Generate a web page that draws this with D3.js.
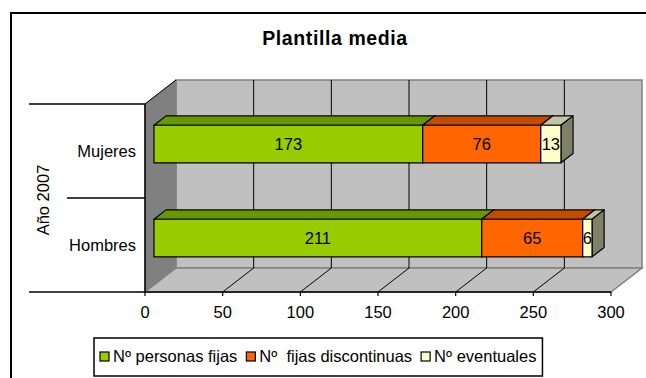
<!DOCTYPE html>
<html><head><meta charset="utf-8">
<script src="https://cdn.jsdelivr.net/npm/d3@7"></script>
<style>
html,body{margin:0;padding:0;background:#fff;}
svg{display:block;font-family:"Liberation Sans",Arial,sans-serif;}
</style></head>
<body><svg id="c" width="646" height="378"></svg>
<script>
const title = "Plantilla media";
const groupLabel = "Año 2007";
const categories = ["Mujeres", "Hombres"];
const seriesNames = ["Nº personas fijas", "Nº  fijas discontinuas", "Nº eventuales"];
const fijas = [173, 211];
const discontinuas = [76, 65];
const eventuales = [13, 6];
const ticks = [0, 50, 100, 150, 200, 250, 300];

const seriesValues = [fijas, discontinuas, eventuales];
const front = ["#99CC00", "#FF6600", "#FFFFCC"];
const topC = ["#669900", "#C04D00", "#C4C4A2"];
const sideC = ["#4d7300", "#993d00", "#808066"];
const FS = 16.5;

const svg = d3.select("#c");
const DX = 31, DY = 24;
const x = d3.scaleLinear().domain([0, 300]).range([145, 611]);
const y = d3.scaleBand().domain(categories).range([104, 292]).paddingInner(0.6).paddingOuter(0.3);
const yTop = 104, yBot = 292;
const P = (px, py, z) => [px + z * DX, py - z * DY];
const poly = pts => pts.map(p => p.join(",")).join(" ");

// outer border
svg.append("rect").attr("x", 11).attr("y", 13).attr("width", 700).attr("height", 400)
  .attr("fill", "#fff").attr("stroke", "#000").attr("stroke-width", 2);

// title
svg.append("text").attr("x", 335).attr("y", 45).attr("text-anchor", "middle")
  .attr("font-size", 19.5).attr("font-weight", "bold").attr("letter-spacing", 0.6).text(title);

const x0 = x(0), x1 = x(300);
// back wall
svg.append("polygon").attr("points", poly([P(x0, yTop, 1), P(x1, yTop, 1), P(x1, yBot, 1), P(x0, yBot, 1)]))
  .attr("fill", "#C0C0C0").attr("stroke", "#808080").attr("stroke-width", 1.5);
// left wall
svg.append("polygon").attr("points", poly([[x0, yTop], P(x0, yTop, 1), P(x0, yBot, 1), [x0, yBot]]))
  .attr("fill", "#808080").attr("stroke", "#808080");
// floor
svg.append("polygon").attr("points", poly([[x0, yBot], [x1, yBot], P(x1, yBot, 1), P(x0, yBot, 1)]))
  .attr("fill", "#C0C0C0").attr("stroke", "#808080").attr("stroke-width", 1.5);

// gridlines
ticks.filter(t => t > 0 && t < 300).forEach(t => {
  const b1 = P(x(t), yTop, 1), b2 = P(x(t), yBot, 1);
  svg.append("line").attr("x1", b1[0]).attr("y1", b1[1]).attr("x2", b2[0]).attr("y2", b2[1])
    .attr("stroke", "#000").attr("stroke-width", 1);
  svg.append("line").attr("x1", x(t)).attr("y1", yBot).attr("x2", b2[0]).attr("y2", b2[1])
    .attr("stroke", "#000").attr("stroke-width", 1);
});
// left wall top diagonal
{
  const b = P(x0, yTop, 1);
  svg.append("line").attr("x1", x0).attr("y1", yTop).attr("x2", b[0]).attr("y2", b[1]).attr("stroke", "#000");
}

// axes lines
svg.append("line").attr("x1", x0).attr("y1", yTop).attr("x2", x0).attr("y2", yBot).attr("stroke", "#000").attr("stroke-width", 1.5);
svg.append("line").attr("x1", 29).attr("y1", yBot).attr("x2", x1).attr("y2", yBot).attr("stroke", "#000").attr("stroke-width", 1.5);
svg.append("line").attr("x1", 29).attr("y1", yTop).attr("x2", x0).attr("y2", yTop).attr("stroke", "#000").attr("stroke-width", 1.5);
svg.append("line").attr("x1", 67).attr("y1", (yTop + yBot) / 2).attr("x2", x0).attr("y2", (yTop + yBot) / 2).attr("stroke", "#000").attr("stroke-width", 1.5);

// x ticks & labels
ticks.forEach(t => {
  svg.append("line").attr("x1", x(t)).attr("y1", yBot).attr("x2", x(t)).attr("y2", yBot + 4).attr("stroke", "#000").attr("stroke-width", 1.2);
  svg.append("text").attr("x", x(t)).attr("y", 318).attr("text-anchor", "middle").attr("font-size", FS).text(t);
});

// category labels
categories.forEach(c => {
  svg.append("text").attr("x", 136).attr("y", y(c) + y.bandwidth() / 2).attr("dy", "0.35em")
    .attr("text-anchor", "end").attr("font-size", FS).text(c);
});
svg.append("text").attr("transform", "translate(49,200) rotate(-90)").attr("text-anchor", "middle")
  .attr("font-size", FS).text(groupLabel);

// bars
const zF = 0.29, zB = 0.68;
categories.forEach((c, ci) => {
  let cum = 0;
  const yt = y(c), yb = y(c) + y.bandwidth();
  seriesValues.forEach((vals, si) => {
    const v = vals[ci];
    const xs = x(cum), xe = x(cum + v);
    cum += v;
    const fTL = P(xs, yt, zF), fBR = P(xe, yb, zF), fTR = P(xe, yt, zF), fBL = P(xs, yb, zF);
    const bTL = P(xs, yt, zB), bTR = P(xe, yt, zB), bBR = P(xe, yb, zB);
    svg.append("polygon").attr("points", poly([fTL, fTR, bTR, bTL])).attr("fill", topC[si]).attr("stroke", "#000").attr("stroke-width", 1.2).attr("stroke-linejoin", "round");
    svg.append("polygon").attr("points", poly([fTR, fBR, bBR, bTR])).attr("fill", sideC[si] ).attr("stroke", "#000").attr("stroke-width", 1.2).attr("stroke-linejoin", "round");
    svg.append("polygon").attr("points", poly([fTL, fTR, fBR, fBL])).attr("fill", front[si]).attr("stroke", "#000").attr("stroke-width", 1.2);
    svg.append("text").attr("x", (fTL[0] + fTR[0]) / 2).attr("y", (fTL[1] + fBL[1]) / 2).attr("dy", "0.35em")
      .attr("text-anchor", "middle").attr("font-size", FS).text(v);
  });
});

// legend
const lg = svg.append("g");
const lgBox = lg.append("rect").attr("x", 94).attr("y", 338).attr("height", 38).attr("fill", "#fff").attr("stroke", "#000").attr("stroke-width", 1.5);
let lx = 100;
seriesNames.forEach((n, i) => {
  lg.append("rect").attr("x", lx).attr("y", 352).attr("width", 9).attr("height", 9).attr("fill", front[i]).attr("stroke", "#000").attr("stroke-width", 1.2);
  const t = lg.append("text").attr("x", lx + 13).attr("y", 362).attr("font-size", FS).attr("xml:space", "preserve").style("white-space", "pre").text(n);
  lx += 13 + t.node().getComputedTextLength() + 9;
});
lgBox.attr("width", lx - 94 - 3);
</script></body></html>
